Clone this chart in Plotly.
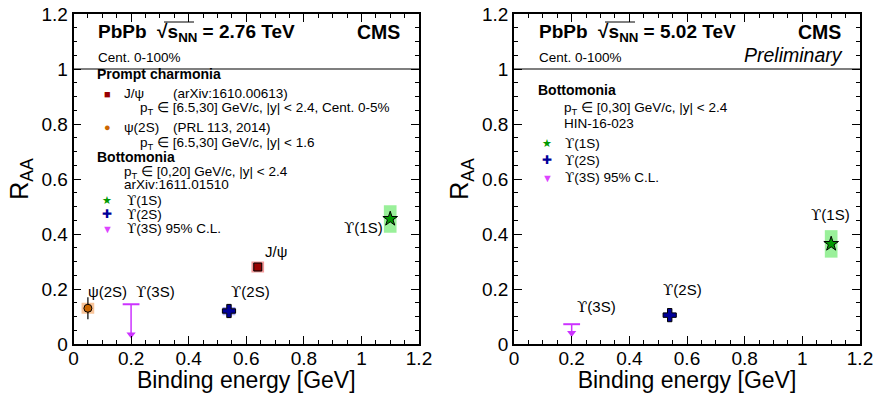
import plotly.graph_objects as go

# ---------------- data ----------------
# Left panel: PbPb 2.76 TeV
L_names = ["ψ(2S)", "J/ψ", "ϒ(1S)", "ϒ(2S)"]
L_x = [0.05, 0.64, 1.10, 0.54]
L_y = [0.13, 0.28, 0.455, 0.12]
L_stat = [0.04, 0.01, 0.01, 0.025]
L_sys = [0.02, 0.02, 0.05, 0.015]
L_symbols = ["circle", "square", "star", "cross"]
L_colors = ["#cc6600", "#990000", "#009900", "#000099"]
L_box = ["rgba(245,176,120,0.75)", "rgba(240,120,120,0.75)", "rgba(120,235,120,0.75)", "rgba(140,140,255,0.75)"]
L_lim_x = [0.20]
L_lim_y = [0.145]
L_lim_end = [0.035]

# Right panel: PbPb 5.02 TeV
R_names = ["ϒ(1S)", "ϒ(2S)"]
R_x = [1.10, 0.54]
R_y = [0.364, 0.105]
R_stat = [0.01, 0.01]
R_sys = [0.05, 0.01]
R_symbols = ["star", "cross"]
R_colors = ["#009900", "#000099"]
R_box = ["rgba(120,235,120,0.75)", "rgba(140,140,255,0.75)"]
R_lim_x = [0.20]
R_lim_y = [0.072]
R_lim_end = [0.04]

x_ticks = [0, 0.2, 0.4, 0.6, 0.8, 1, 1.2]
x_ticklabels = ["0", "0.2", "0.4", "0.6", "0.8", "1", "1.2"]
y_ticks = [0, 0.2, 0.4, 0.6, 0.8, 1, 1.2]
y_ticklabels = ["0", "0.2", "0.4", "0.6", "0.8", "1", "1.2"]

BOX_HW = 0.022
UL_COLOR = "#cc33ff"

W, H = 873, 393
FONT = "Liberation Sans, Arial, sans-serif"
UPS = "<span style='font-family:DejaVu Serif, serif'>ϒ</span>"

fig = go.Figure()

def px_x(p):
    return p / W

def px_y(p):
    return 1 - p / H

dom_y = [px_y(344), px_y(14)]
dom_x1 = [px_x(73.5), px_x(419)]
dom_x2 = [px_x(514), px_x(860)]

shapes = []
annotations = []

def add_panel(xa, ya, names, xs, ys, stat, sys, syms, cols, boxes, lx, ly, lend):
    for x, y, s, bc in zip(xs, ys, sys, boxes):
        shapes.append(dict(type="rect", xref=xa, yref=ya, x0=x - BOX_HW, x1=x + BOX_HW,
                           y0=y - s, y1=y + s, fillcolor=bc, line=dict(width=0), layer="below"))
    for n, x, y, st, sy, c in zip(names, xs, ys, stat, syms, cols):
        size = {"star": 11, "cross": 11, "square": 8, "circle": 8}[sy]
        fig.add_trace(go.Scatter(x=[x], y=[y], mode="markers", xaxis=xa, yaxis=ya, showlegend=False,
                                 marker=dict(symbol=sy, size=size, color=c, line=dict(color="black", width=1)),
                                 error_y=dict(type="data", array=[st], color="black", thickness=1.2, width=0)))
    for x, y, e in zip(lx, ly, lend):
        fig.add_trace(go.Scatter(x=[x, x], y=[y, e], mode="lines", xaxis=xa, yaxis=ya, showlegend=False,
                                 line=dict(color=UL_COLOR, width=1.5)))
        fig.add_trace(go.Scatter(x=[x], y=[y], mode="markers", xaxis=xa, yaxis=ya, showlegend=False,
                                 marker=dict(symbol="line-ew", size=12, line=dict(color=UL_COLOR, width=2))))
        fig.add_trace(go.Scatter(x=[x], y=[e], mode="markers", xaxis=xa, yaxis=ya, showlegend=False,
                                 marker=dict(symbol="triangle-down", size=8, color=UL_COLOR)))
    shapes.append(dict(type="line", xref=xa + " domain", yref=ya, x0=0, x1=1, y0=1, y1=1,
                       line=dict(color="black", width=1.2)))

add_panel("x", "y", L_names, L_x, L_y, L_stat, L_sys, L_symbols, L_colors, L_box, L_lim_x, L_lim_y, L_lim_end)
add_panel("x2", "y2", R_names, R_x, R_y, R_stat, R_sys, R_symbols, R_colors, R_box, R_lim_x, R_lim_y, R_lim_end)

def ups(t):
    return t.replace("ϒ", UPS)

def ann_px(x, y, text, size=13.5, xanchor="left", bold=False, italic=False, color="black", yanchor="middle"):
    t = ups(text)
    if bold:
        t = "<b>" + t + "</b>"
    if italic:
        t = "<i>" + t + "</i>"
    annotations.append(dict(xref="paper", yref="paper", x=px_x(x), y=px_y(y), text=t, showarrow=False,
                            xanchor=xanchor, yanchor=yanchor, font=dict(size=size, color=color, family=FONT)))

def ann_data(xa, ya, x, y, text, size=15):
    annotations.append(dict(xref=xa, yref=ya, x=x, y=y, text=ups(text), showarrow=False,
                            xanchor="center", yanchor="middle", font=dict(size=size, color="black", family=FONT)))

# point labels
ann_data("x", "y", 0.117, 0.19, "ψ(2S)")
ann_data("x", "y", 0.286, 0.19, "ϒ(3S)")
ann_data("x", "y", 0.616, 0.19, "ϒ(2S)")
ann_data("x", "y", 0.704, 0.335, "J/ψ")
ann_data("x", "y", 1.007, 0.422, "ϒ(1S)")
ann_data("x2", "y2", 0.287, 0.135, "ϒ(3S)")
ann_data("x2", "y2", 0.585, 0.195, "ϒ(2S)")
ann_data("x2", "y2", 1.096, 0.468, "ϒ(1S)")

# header texts
for off, energy in [(0, "2.76"), (441, "5.02")]:
    ann_px(96 + off, 33, "PbPb  √s<sub>NN</sub> = " + energy + " TeV", size=19, bold=True)
    ann_px(402 + off, 32, "CMS", size=19.5, bold=True, xanchor="right")
    ann_px(96 + off, 57, "Cent. 0-100%", size=13.5)
ann_px(845, 55, "Preliminary", size=19.5, italic=True, xanchor="right")

# overline for sqrt
for off in [0, 441]:
    shapes.append(dict(type="line", xref="paper", yref="paper", x0=px_x(164 + off), x1=px_x(194 + off),
                       y0=px_y(22), y1=px_y(22), line=dict(color="black", width=1)))

# left legend
ann_px(95, 74, "Prompt charmonia", size=14, bold=True)
ann_px(107, 94, "■", size=11, color="#990000", xanchor="center")
ann_px(122, 93, "J/ψ")
ann_px(171, 93, "(arXiv:1610.00613)")
ann_px(138, 109, "p<sub>T</sub> ∈ [6.5,30] GeV/c, |y| < 2.4, Cent. 0-5%")
ann_px(107, 127, "●", size=11, color="#cc6600", xanchor="center")
ann_px(122, 127, "ψ(2S)")
ann_px(171, 127, "(PRL 113, 2014)")
ann_px(138, 144, "p<sub>T</sub> ∈ [6.5,30] GeV/c, |y| < 1.6")
ann_px(95, 157, "Bottomonia", size=14, bold=True)
ann_px(122, 172, "p<sub>T</sub> ∈ [0,20] GeV/c, |y| < 2.4")
ann_px(122, 185, "arXiv:1611.01510")
ann_px(107, 200, "★", size=11, color="#009900", xanchor="center")
ann_px(125, 200, "ϒ(1S)")
ann_px(107, 214, "✚", size=12, color="#000099", xanchor="center")
ann_px(125, 214, "ϒ(2S)")
ann_px(107, 229, "▼", size=11, color="#dd44ff", xanchor="center")
ann_px(125, 228, "ϒ(3S) 95% C.L.")

# right legend
ann_px(536, 90, "Bottomonia", size=14, bold=True)
ann_px(562, 108, "p<sub>T</sub> ∈ [0,30] GeV/c, |y| < 2.4")
ann_px(562, 124, "HIN-16-023")
ann_px(547, 143, "★", size=11, color="#009900", xanchor="center")
ann_px(563, 143, "ϒ(1S)")
ann_px(547, 160, "✚", size=12, color="#000099", xanchor="center")
ann_px(563, 160, "ϒ(2S)")
ann_px(547, 178, "▼", size=11, color="#dd44ff", xanchor="center")
ann_px(563, 177, "ϒ(3S) 95% C.L.")

axis_common = dict(range=[0, 1.2], showgrid=False, zeroline=False, showline=True, linecolor="black",
                   linewidth=1.5, mirror="allticks", automargin=False, ticklabeloverflow="allow",
                   ticks="inside", ticklen=8, tickwidth=1.2, tickcolor="black",
                   tickfont=dict(size=19, family=FONT, color="black"),
                   minor=dict(ticks="inside", ticklen=4, tickwidth=1, tickcolor="black", dtick=0.05, showgrid=False))

xa = dict(axis_common, tickvals=x_ticks, ticktext=x_ticklabels, ticklabelstandoff=-4,
          title=dict(text="Binding energy [GeV]", font=dict(size=23, family=FONT, color="black"), standoff=2))
ya = dict(axis_common, tickvals=y_ticks, ticktext=y_ticklabels,
          title=dict(text="R<sub>AA</sub>", font=dict(size=25, family=FONT, color="black"), standoff=6))

fig.update_layout(
    width=W, height=H, margin=dict(l=0, r=0, t=0, b=0),
    paper_bgcolor="white", plot_bgcolor="white",
    xaxis=dict(xa, domain=dom_x1, anchor="y"),
    yaxis=dict(ya, domain=dom_y, anchor="x"),
    xaxis2=dict(xa, domain=dom_x2, anchor="y2"),
    yaxis2=dict(ya, domain=dom_y, anchor="x2"),
    shapes=shapes, annotations=annotations, showlegend=False,
)

fig.write_html("out.html", config={"displayModeBar": False},
               post_script="document.body.style.margin='0';document.body.style.overflow='hidden';")
